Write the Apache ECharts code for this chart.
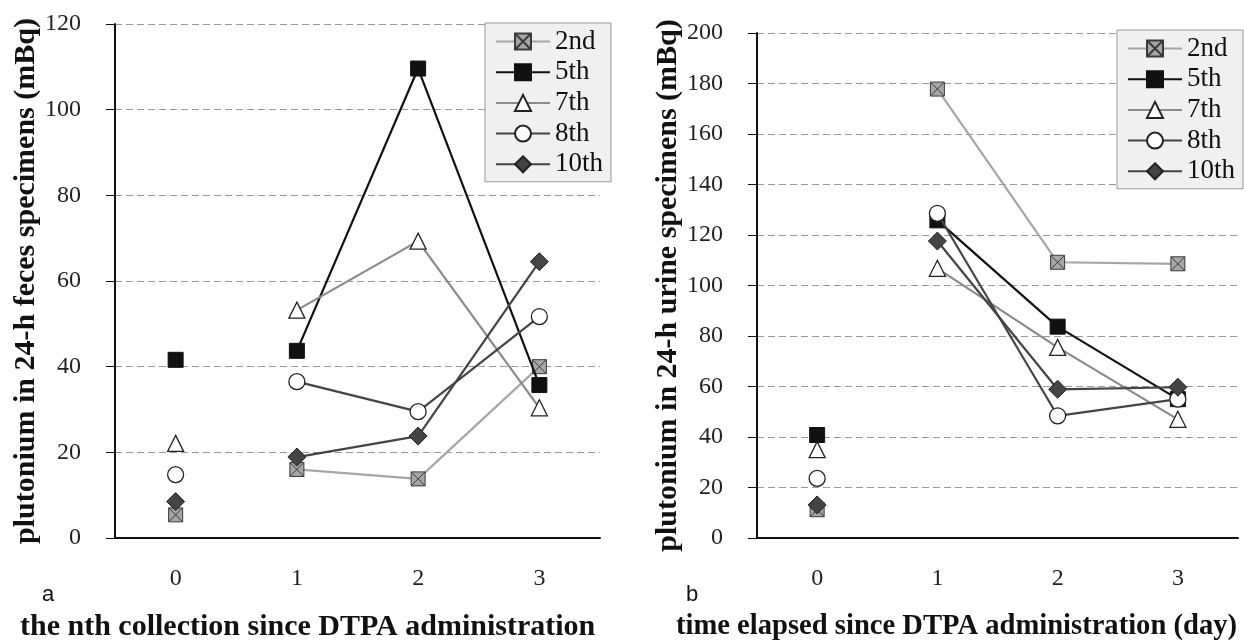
<!DOCTYPE html>
<html>
<head>
<meta charset="utf-8">
<script src="https://cdn.jsdelivr.net/npm/echarts@6/dist/echarts.min.js"></script>
<style>
html,body{margin:0;padding:0;background:#fff;}
#chart{width:1245px;height:642px;}
</style>
</head>
<body>
<div id="chart"></div>
<script>
// ---- data ----
const categories = ['0', '1', '2', '3'];
const seriesNames = ['2nd', '5th', '7th', '8th', '10th'];

// panel a: plutonium in 24-h feces specimens (mBq)
const feces2nd  = [5.4, 16.0, 13.8, 40.0];
const feces5th  = [41.6, 43.7, 109.6, 35.7];
const feces7th  = [22.1, 53.2, 69.3, 30.4];
const feces8th  = [14.8, 36.5, 29.5, 51.7];
const feces10th = [8.5, 18.9, 23.8, 64.5];

// panel b: plutonium in 24-h urine specimens (mBq)
const urine2nd  = [11.2, 177.8, 109.2, 108.6];
const urine5th  = [40.8, 125.8, 83.7, 55.0];
const urine7th  = [35.0, 106.8, 75.5, 47.0];
const urine8th  = [23.6, 128.6, 48.4, 55.0];
const urine10th = [13.1, 117.6, 58.9, 59.7];

const fecesData = [feces2nd, feces5th, feces7th, feces8th, feces10th];
const urineData = [urine2nd, urine5th, urine7th, urine8th, urine10th];

// ---- styles ----
const crossSquare = 'path://M0,0L10,0L10,10L0,10Z M0,0L10,10 M10,0L0,10';
const styles = [
  {line: '#a6a6a6', symbol: crossSquare, size: 14, fill: '#a6a6a6', border: '#3a3a3a', bw: 1},
  {line: '#111111', symbol: 'rect', size: 15, fill: '#111111', border: '#111111', bw: 1},
  {line: '#8a8a8a', symbol: 'triangle', size: 16, fill: '#ffffff', border: '#222222', bw: 1.3},
  {line: '#444444', symbol: 'circle', size: 16, fill: '#ffffff', border: '#222222', bw: 1.3},
  {line: '#444444', symbol: 'diamond', size: 18, fill: '#444444', border: '#222222', bw: 1}
];

const serif = 'Liberation Serif';
const series = [];
[fecesData, urineData].forEach(function (panel, gi) {
  panel.forEach(function (vals, si) {
    const st = styles[si];
    const common = {
      name: seriesNames[si],
      xAxisIndex: gi, yAxisIndex: gi,
      symbol: st.symbol, symbolSize: st.size,
      itemStyle: {color: st.fill, borderColor: st.border, borderWidth: st.bw, opacity: 1},
      z: 2 + si
    };
    // connected points from collection 1 onward
    series.push(Object.assign({}, common, {
      type: 'line',
      data: vals.map(function (v, i) { return i === 0 ? '-' : v; }),
      showSymbol: true,
      lineStyle: {color: st.line, width: 2.2},
      emphasis: {disabled: true},
      animation: false
    }));
    // isolated point at 0
    series.push(Object.assign({}, common, {
      type: 'scatter',
      data: vals.map(function (v, i) { return i === 0 ? v : '-'; }),
      emphasis: {disabled: true},
      animation: false
    }));
  });
});

function yAxis(gi, max, name) {
  return {
    type: 'value', gridIndex: gi, min: 0, max: max, interval: 20,
    name: name, nameLocation: 'middle', nameGap: 66,
    nameTextStyle: {fontFamily: serif, fontWeight: 'bold', fontSize: 30, color: '#111'},
    axisLine: {show: true, lineStyle: {color: '#111', width: 2}},
    axisTick: {show: true, length: 9, lineStyle: {color: '#111', width: 1}},
    axisLabel: {fontFamily: serif, fontSize: 24, color: '#222', margin: 34},
    splitLine: {show: true, lineStyle: {color: '#999', width: 1, type: [7, 4]}}
  };
}
function xAxis(gi) {
  return {
    type: 'category', gridIndex: gi, data: categories, boundaryGap: true,
    axisLine: {show: true, onZero: false, lineStyle: {color: '#111', width: 2}},
    axisTick: {show: false},
    axisLabel: {fontFamily: serif, fontSize: 24, color: '#222', margin: 29},
    splitLine: {show: false}
  };
}

function legend(left, top) {
  return {
    data: seriesNames, orient: 'vertical', left: left, top: top,
    itemWidth: 54, itemHeight: 20, itemGap: 3.7,
    padding: [5, 8, 4, 10],
    backgroundColor: '#f0f0f0', borderColor: '#999', borderWidth: 1,
    textStyle: {fontFamily: serif, fontSize: 27, color: '#111'},
    selectedMode: false
  };
}

const chart = echarts.init(document.getElementById('chart'), null, {renderer: 'canvas'});
chart.setOption({
  animation: false,
  backgroundColor: '#ffffff',
  grid: [
    {left: 115, right: 645, top: 24, bottom: 104, containLabel: false, outerBoundsMode: 'none'},
    {left: 757, right: 7, top: 33, bottom: 104, containLabel: false, outerBoundsMode: 'none'}
  ],
  xAxis: [xAxis(0), xAxis(1)],
  yAxis: [
    yAxis(0, 120, 'plutonium in 24-h feces specimens (mBq)'),
    yAxis(1, 200, 'plutonium in 24-h urine specimens (mBq)')
  ],
  legend: [legend(485, 23), legend(1117, 30)],
  graphic: [
    {type: 'text', x: 42, y: 584, style: {text: 'a', font: '22px "Liberation Sans"', fill: '#111'}},
    {type: 'text', x: 686, y: 584, style: {text: 'b', font: '22px "Liberation Sans"', fill: '#111'}},
    {type: 'text', x: 20, y: 627, style: {text: 'the nth collection since DTPA administration', font: 'bold 30px "Liberation Serif"', fill: '#111', verticalAlign: 'middle', align: 'left'}},
    {type: 'text', x: 676, y: 627, style: {text: 'time elapsed since DTPA administration (day)', font: 'bold 28.6px "Liberation Serif"', fill: '#111', verticalAlign: 'middle', align: 'left'}}
  ],
  series: series
});
</script>
</body>
</html>
